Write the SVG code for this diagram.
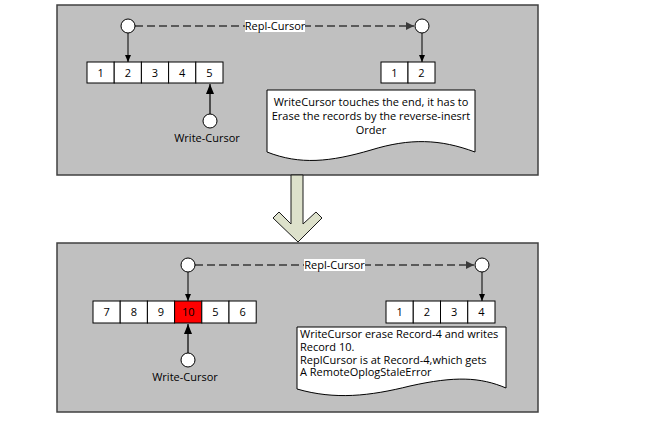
<svg xmlns="http://www.w3.org/2000/svg" width="655" height="424" viewBox="0 0 655 424">
<style>
.panel{fill:#c0c0c0;stroke:#404040;stroke-width:1.5}
.box{fill:#fff;stroke:#000;stroke-width:1}
.red{fill:#ff0000;stroke:#000;stroke-width:1}
.num{font-family:"Open Sans",sans-serif;font-size:11px;fill:#000;text-anchor:middle}
.lbl{font-family:"Open Sans",sans-serif;font-size:11px;fill:#000}
.cur{fill:#fff;stroke:#000;stroke-width:1}
.dash{stroke:#5a5a5a;stroke-width:2;stroke-dasharray:8 4;fill:none}
.down{stroke:#000;stroke-width:1;fill:none}
.up{stroke:#4d4d4d;stroke-width:2;fill:none}
.doc{fill:#fff;stroke:#000;stroke-width:1}
</style>
<defs>
<marker id="ah" markerWidth="8" markerHeight="8" refX="7" refY="4" orient="auto" markerUnits="userSpaceOnUse"><path d="M0,1 L7,4 L0,7 Z" fill="#000"/></marker>
<marker id="ahg" markerWidth="10" markerHeight="10" refX="8" refY="4" orient="auto" markerUnits="userSpaceOnUse"><path d="M0,0 L8,4 L0,8 Z" fill="#3a3a3a"/></marker>
<marker id="ahu" markerWidth="12" markerHeight="10" refX="10" refY="4" orient="auto" markerUnits="userSpaceOnUse"><path d="M0,0 L10,4 L0,8 Z" fill="#000"/></marker>
</defs>

<g id="panel-top"><rect class="panel" x="57" y="5" width="481" height="170"/></g>
<g id="panel-bottom"><rect class="panel" x="57" y="243" width="481" height="169"/></g>

<g id="big-arrow"><path d="M291,175 H303 V224 L316,212 L322,218 L298,242 L273,218 L279,212 L291,224 Z" fill="#dde1cb" stroke="#1a1a1a" stroke-width="1"/></g>

<g id="connectors">
<line class="dash" x1="135" y1="26" x2="414" y2="26" marker-end="url(#ahg)"/>
<line class="down" x1="128" y1="33" x2="128" y2="62" marker-end="url(#ah)"/>
<line class="down" x1="422" y1="33" x2="422" y2="62" marker-end="url(#ah)"/>
<line class="up" x1="210" y1="114" x2="210" y2="84" marker-end="url(#ahu)"/>
<line class="dash" x1="195" y1="265" x2="474" y2="265" marker-end="url(#ahg)"/>
<line class="down" x1="188" y1="272" x2="188" y2="301" marker-end="url(#ah)"/>
<line class="down" x1="482" y1="272" x2="482" y2="301" marker-end="url(#ah)"/>
<line class="up" x1="188" y1="353" x2="188" y2="324" marker-end="url(#ahu)"/>
</g>

<g id="label-repl-top"><rect x="245" y="20" width="60" height="12" fill="#fff"/><text class="lbl" x="275" y="30" text-anchor="middle">Repl-Cursor</text></g>
<g id="label-repl-bottom"><rect x="304" y="259" width="61" height="12" fill="#fff"/><text class="lbl" x="334.5" y="269" text-anchor="middle">Repl-Cursor</text></g>

<g id="repl-cursor-top-left"><circle class="cur" cx="128" cy="26" r="7"/></g>
<g id="repl-cursor-top-right"><circle class="cur" cx="422" cy="26" r="7"/></g>
<g id="write-cursor-top"><circle class="cur" cx="210" cy="121" r="7"/><text class="lbl" x="207" y="142" text-anchor="middle">Write-Cursor</text></g>

<g id="records-top-left">
<rect class="box" x="87" y="62" width="27.2" height="21"/><text class="num" x="100.6" y="77">1</text>
<rect class="box" x="114.2" y="62" width="27.2" height="21"/><text class="num" x="127.8" y="77">2</text>
<rect class="box" x="141.4" y="62" width="27.2" height="21"/><text class="num" x="155" y="77">3</text>
<rect class="box" x="168.6" y="62" width="27.2" height="21"/><text class="num" x="182.2" y="77">4</text>
<rect class="box" x="195.8" y="62" width="27.2" height="21"/><text class="num" x="209.4" y="77">5</text>
</g>
<g id="records-top-right">
<rect class="box" x="381" y="62" width="27" height="21"/><text class="num" x="394.5" y="77">1</text>
<rect class="box" x="408" y="62" width="27" height="21"/><text class="num" x="421.5" y="77">2</text>
</g>

<g id="note-top">
<path class="doc" d="M267,90 H475 V152 C440,139 410,138 371,150 C330,162 300,165 267,152 Z"/>
<text class="lbl" text-anchor="middle" x="371" y="106">WriteCursor touches the end, it has to</text>
<text class="lbl" text-anchor="middle" x="371" y="120">Erase the records by the reverse-inesrt</text>
<text class="lbl" text-anchor="middle" x="371" y="134">Order</text>
</g>

<g id="repl-cursor-bottom-left"><circle class="cur" cx="188" cy="265" r="7"/></g>
<g id="repl-cursor-bottom-right"><circle class="cur" cx="482" cy="265" r="7"/></g>
<g id="write-cursor-bottom"><circle class="cur" cx="188" cy="360" r="7"/><text class="lbl" x="185" y="381" text-anchor="middle">Write-Cursor</text></g>

<g id="records-bottom-left">
<rect class="box" x="93" y="301" width="27.2" height="22"/><text class="num" x="106.6" y="316">7</text>
<rect class="box" x="120.2" y="301" width="27.2" height="22"/><text class="num" x="133.8" y="316">8</text>
<rect class="box" x="147.4" y="301" width="27.2" height="22"/><text class="num" x="161" y="316">9</text>
<rect class="red" x="174.6" y="301" width="27.2" height="22"/><text class="num" x="188.2" y="316">10</text>
<rect class="box" x="201.8" y="301" width="27.2" height="22"/><text class="num" x="215.4" y="316">5</text>
<rect class="box" x="229" y="301" width="27.2" height="22"/><text class="num" x="242.6" y="316">6</text>
</g>
<g id="records-bottom-right">
<rect class="box" x="386" y="301" width="27.25" height="22"/><text class="num" x="399.6" y="316">1</text>
<rect class="box" x="413.25" y="301" width="27.25" height="22"/><text class="num" x="426.9" y="316">2</text>
<rect class="box" x="440.5" y="301" width="27.25" height="22"/><text class="num" x="454.1" y="316">3</text>
<rect class="box" x="467.75" y="301" width="27.25" height="22"/><text class="num" x="481.4" y="316">4</text>
</g>

<g id="note-bottom">
<path class="doc" d="M297,327 H506 V388 C480,377 455,376 410,386 C370,396 335,400 297,389 Z"/>
<text class="lbl" x="300" y="338">WriteCursor erase Record-4 and writes</text>
<text class="lbl" x="300" y="351">Record 10.</text>
<text class="lbl" x="300" y="363.5">ReplCursor is at Record-4,which gets</text>
<text class="lbl" x="300" y="376">A RemoteOplogStaleError</text>
</g>
</svg>
